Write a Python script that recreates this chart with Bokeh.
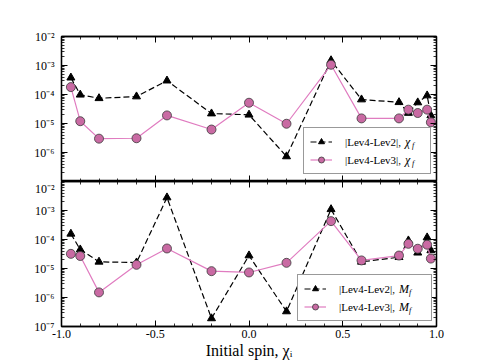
from bokeh.plotting import figure
from bokeh.layouts import column
from bokeh.models import (Range1d, FixedTicker, LogAxis, LinearAxis, Legend,
                          LegendItem, PrintfTickFormatter, CustomJSTickFormatter)
from bokeh.embed import file_html
from bokeh.resources import INLINE

# ---- data ----
chi_i = [-0.95, -0.9, -0.8, -0.6, -0.4375, -0.2, 0.0, 0.2, 0.4375, 0.6, 0.8, 0.85, 0.9, 0.95, 0.97]

lev2_chi_f = [3.8e-4, 9.8e-5, 7.4e-5, 8.5e-5, 3.0e-4, 2.2e-5, 2.0e-5, 7.3e-7, 1.5e-3,
              6.7e-5, 5.4e-5, 2.3e-5, 5.3e-5, 9.2e-5, 1.9e-5]
lev3_chi_f = [1.8e-4, 1.2e-5, 3.0e-6, 3.1e-6, 1.9e-5, 6.2e-6, 5.2e-5, 9.8e-6, 1.06e-3,
              1.5e-5, 1.5e-5, 3.0e-5, 2.3e-5, 3.0e-5, 1.1e-5]

lev2_m_f = [1.57e-4, 4.5e-5, 1.7e-5, 1.6e-5, 2.8e-3, 1.9e-7, 2.8e-5, 3.3e-7, 1.1e-3,
            1.7e-5, 2.45e-5, 9.2e-5, 3.5e-5, 1.17e-4, 4.2e-5]
lev3_m_f = [3.2e-5, 2.7e-5, 1.5e-6, 1.34e-5, 4.9e-5, 8.1e-6, 7.3e-6, 1.57e-5, 4.3e-4,
            1.9e-5, 2.8e-5, 7.1e-5, 4.8e-5, 6.6e-5, 2.2e-5]

legend_labels = ["|Lev4-Lev2|,", "|Lev4-Lev3|,"]
x_label = "Initial spin, \u03c7\u1d62"

decades = [-7, -6, -5, -4, -3, -2]
x_major = [-1.0, -0.5, 0.0, 0.5, 1.0]

# ---- ticks ----
y_major = [10.0 ** k for k in decades]
y_minor = [m * 10.0 ** k for k in decades[:-1] for m in range(2, 10)]
x_minor = [round(-1 + 0.1 * i, 1) for i in range(21)]

FONT = "Liberation Serif"
PINK_LINE = "#e07cc0"
PINK_FILL = "#c96aa3"
FW, FH = 375, 145

SUP_CODE = """
const sup = {"-":"\u207b","0":"\u2070","1":"\u00b9","2":"\u00b2","3":"\u00b3","4":"\u2074",
             "5":"\u2075","6":"\u2076","7":"\u2077","8":"\u2078","9":"\u2079"};
const e = Math.round(Math.log10(tick));
if (e < lo) return "";
return "10" + String(e).split("").map(c => sup[c]).join("");
"""


def style_axis(ax, ticks, minor, show):
    ax.ticker = FixedTicker(ticks=ticks, minor_ticks=minor)
    ax.major_tick_in = 6
    ax.major_tick_out = 0
    ax.minor_tick_in = 3
    ax.minor_tick_out = 0
    ax.axis_line_color = "black"
    ax.axis_line_width = 1.3
    ax.major_tick_line_color = "black"
    ax.minor_tick_line_color = "black"
    ax.major_tick_line_width = 1
    ax.minor_tick_line_width = 0.8
    ax.major_label_text_color = "black"
    ax.major_label_text_font = FONT
    if not show:
        ax.formatter = CustomJSTickFormatter(code="return '';")
        ax.major_label_text_font_size = "1px"
        ax.major_label_standoff = 0


def text_legend(p, renderer, texts, loc, size, rows_h, sp):
    """transparent legend that only writes (italic) text at a given spot"""
    lg = Legend(items=[LegendItem(label=t, renderers=[renderer]) for t in texts],
                location=loc, padding=0, spacing=sp, glyph_width=0,
                glyph_height=rows_h, label_height=rows_h, label_width=1,
                label_standoff=0, label_text_font=FONT, label_text_font_style="italic",
                label_text_font_size=size, label_text_color="black",
                border_line_color=None, background_fill_alpha=0, margin=0)
    p.add_layout(lg)


def make_panel(y2, y3, top_border, bottom_border, lo, show_x, leg_xy, leg_w, sym):
    p = figure(frame_width=FW, frame_height=FH,
               x_range=Range1d(-1, 1), y_range=Range1d(1e-7, 1e-2),
               y_axis_type="log", output_backend="svg", toolbar_location=None,
               min_border_left=61, min_border_right=49,
               min_border_top=top_border, min_border_bottom=bottom_border)
    p.xgrid.visible = False
    p.ygrid.visible = False
    p.outline_line_color = "black"
    p.outline_line_width = 1.3
    p.background_fill_color = "white"

    left = p.yaxis[0]
    style_axis(left, y_major, y_minor, True)
    left.formatter = CustomJSTickFormatter(args=dict(lo=lo), code=SUP_CODE)
    left.major_label_text_font_size = "12px"
    left.major_label_standoff = 7

    right = LogAxis()
    style_axis(right, y_major, y_minor, False)
    p.add_layout(right, "right")

    below = p.xaxis[0]
    style_axis(below, x_major, x_minor, show_x)
    if show_x:
        below.formatter = PrintfTickFormatter(format="%.1f")
        below.major_label_text_font_size = "12px"
        below.major_label_standoff = 3
        below.axis_label = x_label
        below.axis_label_text_font = FONT
        below.axis_label_text_font_style = "normal"
        below.axis_label_text_font_size = "16px"
        below.axis_label_text_color = "black"
        below.axis_label_standoff = 1

    above = LinearAxis()
    style_axis(above, x_major, x_minor, False)
    p.add_layout(above, "above")

    r2 = p.line(chi_i, y2, line_color="black", line_dash="6 3", line_width=1.2)
    s2 = p.scatter(chi_i, y2, marker="triangle", size=8, fill_color="black",
                   line_color="black")
    r3 = p.line(chi_i, y3, line_color=PINK_LINE, line_width=1.2)
    s3 = p.scatter(chi_i, y3, marker="circle", size=9, fill_color=PINK_FILL,
                   line_color="#3a3a3a", line_width=0.8)

    pad, gw, gh, sp, st = 6, 22, 15, 3, 13
    lw = leg_w - 2 * pad - gw - st
    legend = Legend(items=[LegendItem(label=legend_labels[0], renderers=[r2, s2]),
                           LegendItem(label=legend_labels[1], renderers=[r3, s3])],
                    location=leg_xy, padding=pad, spacing=sp, glyph_width=gw,
                    glyph_height=gh, label_height=gh, label_width=lw,
                    label_standoff=st, label_text_font=FONT,
                    label_text_font_size="11px", label_text_color="black",
                    border_line_color="#333333",
                    border_line_width=1.5, background_fill_color="white",
                    background_fill_alpha=1, margin=0)
    p.add_layout(legend)

    # italic symbol and subscript f written over the legend rows
    lx, ly = leg_xy
    text_x = lx + pad + gw + st + 61
    text_legend(p, r2, [sym, sym], (text_x, ly + pad), "12px", gh, sp)
    sub_dx = 7 if sym == "\u03c7" else 10
    text_legend(p, r2, ["f", "f"], (text_x + sub_dx, ly + pad - 3), "8px", gh, sp)
    return p


p1 = make_panel(lev2_chi_f, lev3_chi_f, 36, 0, -6, False, (242, 7), 126, "\u03c7")
p2 = make_panel(lev2_m_f, lev3_m_f, 0, 36, -7, True, (236, 5), 133, "M")

layout = column(p1, p2, spacing=0)
open("out.html", "w", encoding="utf-8").write(file_html(layout, INLINE))
